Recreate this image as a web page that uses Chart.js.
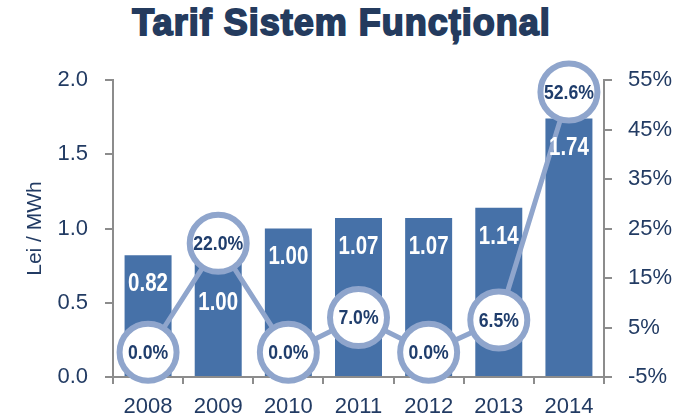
<!DOCTYPE html>
<html lang="ro">
<head>
    <meta charset="UTF-8">
    <title>Tarif Sistem Funcțional</title>
    <script src="https://cdn.jsdelivr.net/npm/chart.js"></script>
    <style>
        body { margin: 0; background: #fff; }
        .wrap { position: relative; width: 683px; height: 419px; }
        h1 {
            position: absolute; left: 0; top: 3px; width: 683px; margin: 0;
            text-align: center; font-family: "Liberation Sans", Arial, sans-serif;
            font-weight: bold; font-size: 36px; line-height: 40px; color: #243b5e;
            -webkit-text-stroke: 1.8px #243b5e; letter-spacing: 1px;
        }
        canvas { position: absolute; left: 0; top: 0; }
    </style>
</head>
<body>
<div class="wrap">
    <h1>Tarif Sistem Funcțional</h1>
    <canvas id="tarif" width="683" height="419"></canvas>
</div>
<script>
    const years = ['2008', '2009', '2010', '2011', '2012', '2013', '2014'];
    const tariff = [0.82, 1.00, 1.00, 1.07, 1.07, 1.14, 1.74];
    const growth = [0.0, 22.0, 0.0, 7.0, 0.0, 6.5, 52.6];
    const leiTicks = [0, 0.5, 1.0, 1.5, 2.0];
    const pctTicks = [-5, 5, 15, 25, 35, 45, 55];

    const NAVY = '#223b63';
    const BAR = '#4671a8';
    const RING = '#8fa5cc';
    const FONT = '"Liberation Sans", Arial, sans-serif';

    // narrow-looking text: squeeze the regular face horizontally
    function narrowText(ctx, text, x, y, squeeze) {
        ctx.save();
        ctx.translate(x, y);
        ctx.scale(squeeze, 1);
        ctx.fillText(text, 0, 0);
        ctx.restore();
    }

    // draws the numbers on bars and inside the circles
    const valueLabels = {
        id: 'valueLabels',
        afterDatasetsDraw(chart) {
            const ctx = chart.ctx;
            const bars = chart.getDatasetMeta(1).data;
            const points = chart.getDatasetMeta(0).data;
            ctx.save();
            ctx.textAlign = 'center';
            ctx.textBaseline = 'middle';
            ctx.font = 'bold 25px ' + FONT;
            ctx.fillStyle = '#ffffff';
            bars.forEach((bar, i) => {
                let y = bar.y + 29;
                if (Math.abs(y - points[i].y) < 45) y = points[i].y + 60;
                narrowText(ctx, tariff[i].toFixed(2), bar.x, y, 0.82);
            });
            ctx.font = 'bold 21px ' + FONT;
            ctx.fillStyle = '#1f3d6c';
            points.forEach((pt, i) => {
                narrowText(ctx, growth[i].toFixed(1) + '%', pt.x, pt.y + 1, 0.84);
            });
            ctx.restore();
        }
    };

    new Chart(document.getElementById('tarif'), {
        data: {
            labels: years,
            datasets: [{
                type: 'line',
                data: growth,
                yAxisID: 'y1',
                order: 0,
                clip: false,
                borderColor: RING,
                borderWidth: 5,
                pointRadius: 28.5,
                pointHoverRadius: 28.5,
                pointBorderWidth: 6,
                pointBackgroundColor: '#ffffff',
                pointBorderColor: RING,
                tension: 0
            }, {
                type: 'bar',
                data: tariff,
                yAxisID: 'y',
                order: 1,
                backgroundColor: BAR,
                barPercentage: 0.67,
                categoryPercentage: 1.0
            }]
        },
        options: {
            responsive: false,
            animation: false,
            layout: { padding: { top: 80, left: 0, right: 0, bottom: 0 } },
            plugins: {
                legend: { display: false },
                tooltip: { enabled: false }
            },
            scales: {
                x: {
                    afterFit: s => { s.height = 42; },
                    grid: { offset: true, drawOnChartArea: false, drawTicks: true, tickLength: 7, color: '#8c8c8c', lineWidth: 2 },
                    border: { display: true, color: '#8c8c8c', width: 2 },
                    ticks: { color: NAVY, font: { family: FONT, size: 22 }, padding: 10 }
                },
                y: {
                    position: 'left',
                    min: 0, max: 2,
                    afterBuildTicks: s => { s.ticks = leiTicks.map(v => ({ value: v })); },
                    afterFit: s => { s.width = 113; },
                    grid: { drawOnChartArea: false, drawTicks: true, tickLength: 8, color: '#8c8c8c', lineWidth: 2 },
                    border: { display: true, color: '#8c8c8c', width: 2 },
                    ticks: { color: NAVY, font: { family: FONT, size: 22 }, padding: 17, callback: v => v.toFixed(1) },
                    title: { display: true, text: 'Lei / MWh', color: NAVY, font: { family: FONT, size: 21 }, padding: { top: 23, bottom: 0 } }
                },
                y1: {
                    position: 'right',
                    min: -5, max: 55,
                    afterBuildTicks: s => { s.ticks = pctTicks.map(v => ({ value: v })); },
                    afterFit: s => { s.width = 79; },
                    grid: { drawOnChartArea: false, drawTicks: true, tickLength: 8, color: '#8c8c8c', lineWidth: 2 },
                    border: { display: true, color: '#8c8c8c', width: 2 },
                    ticks: { color: NAVY, font: { family: FONT, size: 22 }, padding: 16, callback: v => v + '%' }
                }
            }
        },
        plugins: [valueLabels]
    });
</script>
</body>
</html>
